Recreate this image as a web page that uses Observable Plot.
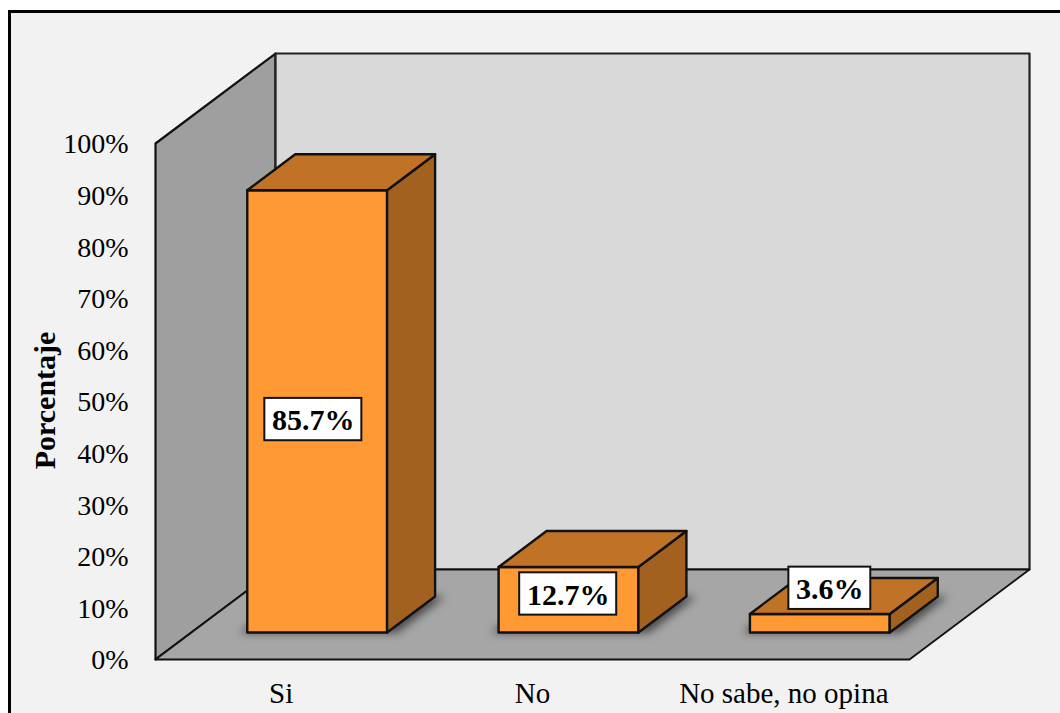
<!DOCTYPE html>
<html>
<head>
<meta charset="utf-8">
<script src="https://cdn.jsdelivr.net/npm/d3@7"></script>
<script src="https://cdn.jsdelivr.net/npm/@observablehq/plot@0.6"></script>
<style>
  html, body { margin: 0; padding: 0; background: #fff; overflow: hidden; }
  #frame { position: absolute; left: 8px; top: 10px; width: 1060px; height: 720px;
           background: #f2f2f2; border-left: 3px solid #000; border-top: 3px solid #000; }
  #chart { position: absolute; left: 0; top: 0; }
</style>
</head>
<body>
<div id="frame"></div>
<div id="chart"></div>
<script>
const categories = ["Si", "No", "No sabe, no opina"];
const values = [85.7, 12.7, 3.6];
const labels = ["85.7%", "12.7%", "3.6%"];
const labelCenterX = [0.628, 1.642, 2.683];
const labelCenterY = [46.5, 12.7, 13.8];
const labelHalfWidth = [0.193, 0.193, 0.163];
const labelHalfHeight = 4.1;
const yTicks = [0, 10, 20, 30, 40, 50, 60, 70, 80, 90, 100];

// Oblique projection: depth z (0 front, 1 back) shifts a point in data units
const depthX = 0.4775, depthY = 17.44;
const barWidth = 0.5563, zFront = 0.3, zBack = 0.7;
const P = (u, v, z, id) => ({x: u + z * depthX, y: v + z * depthY, id});

const wall = (corners) => corners.map(([u, v, z]) => P(u, v, z, "w"));
const floorFace = wall([[0,0,0],[3,0,0],[3,0,1],[0,0,1]]);
const leftFace = wall([[0,0,0],[0,100,0],[0,100,1],[0,0,1]]);
const backFace = wall([[0,0,1],[0,100,1],[3,100,1],[3,0,1]]);

const left = (i) => i + (1 - barWidth) / 2;
const frontFaces = values.flatMap((v, i) => {
  const a = left(i), b = a + barWidth;
  return [P(a,0,zFront,i), P(b,0,zFront,i), P(b,v,zFront,i), P(a,v,zFront,i)];
});
const sideFaces = values.flatMap((v, i) => {
  const b = left(i) + barWidth;
  return [P(b,0,zFront,i), P(b,0,zBack,i), P(b,v,zBack,i), P(b,v,zFront,i)];
});
const topFaces = values.flatMap((v, i) => {
  const a = left(i), b = a + barWidth;
  return [P(a,v,zFront,i), P(b,v,zFront,i), P(b,v,zBack,i), P(a,v,zBack,i)];
});
const shadowFaces = values.flatMap((v, i) => {
  const a = left(i) - 0.03, b = left(i) + barWidth + 0.04;
  return [P(a,-0.1,zFront,i), P(b,-0.1,zFront,i), P(b,0,zBack,i), P(a,0,zBack,i)];
});

const poly = (data, fill, stroke, strokeWidth, extra = {}) =>
  Plot.line(data, {x: "x", y: "y", z: "id", curve: "linear-closed", fill, stroke, strokeWidth,
                   strokeLinejoin: "round", ...extra});

const labelRows = labels.map((text, i) => ({
  text, x: labelCenterX[i], y: labelCenterY[i], hw: labelHalfWidth[i]
}));

const chart = Plot.plot({
  width: 1060, height: 713,
  marginLeft: 155, marginRight: 151, marginTop: 143, marginBottom: 54,
  x: {domain: [0, 3]},
  y: {domain: [0, 100]},
  style: {background: "transparent", fontFamily: "'Liberation Serif', serif", color: "#000"},
  marks: [
    poly(leftFace, "#9f9f9f", "#111", 2.2),
    poly(backFace, "#d9d9d9", "#222", 2.2),
    poly(floorFace, "#a6a6a6", "#111", 1.8),
    poly(shadowFaces, "#4a4a4a", "none", 0, {imageFilter: "blur(4px)"}),
    poly(frontFaces, "#ff9933", "#111", 2.4),
    poly(sideFaces, "#a36120", "#111", 2.4),
    poly(topFaces, "#c07326", "#111", 2.4),
    Plot.rect(labelRows, {
      x1: d => d.x - d.hw, x2: d => d.x + d.hw,
      y1: d => d.y - labelHalfHeight, y2: d => d.y + labelHalfHeight,
      fill: "#fff", stroke: "#111", strokeWidth: 2
    }),
    Plot.text(labelRows, {x: "x", y: "y", text: "text", dy: 1, fontSize: 30, fontWeight: "bold", fill: "#000"}),
    Plot.axisY({ticks: yTicks, tickFormat: d => d + "%", tickSize: 0, tickPadding: 27, dy: 1,
                fontSize: 28, label: null, fill: "#000"}),
    Plot.axisX({ticks: [0.5, 1.5, 2.5], tickFormat: d => categories[Math.floor(d)], tickSize: 0,
                tickPadding: 23, fontSize: 29, label: null, fill: "#000"}),
    Plot.text(["Porcentaje"], {frameAnchor: "left", textAnchor: "middle", dx: -110, y: [50.2], text: d => d, rotate: -90,
                fontSize: 30, fontWeight: "bold", fill: "#000"})
  ]
});
document.getElementById("chart").appendChild(chart);
</script>
</body>
</html>
